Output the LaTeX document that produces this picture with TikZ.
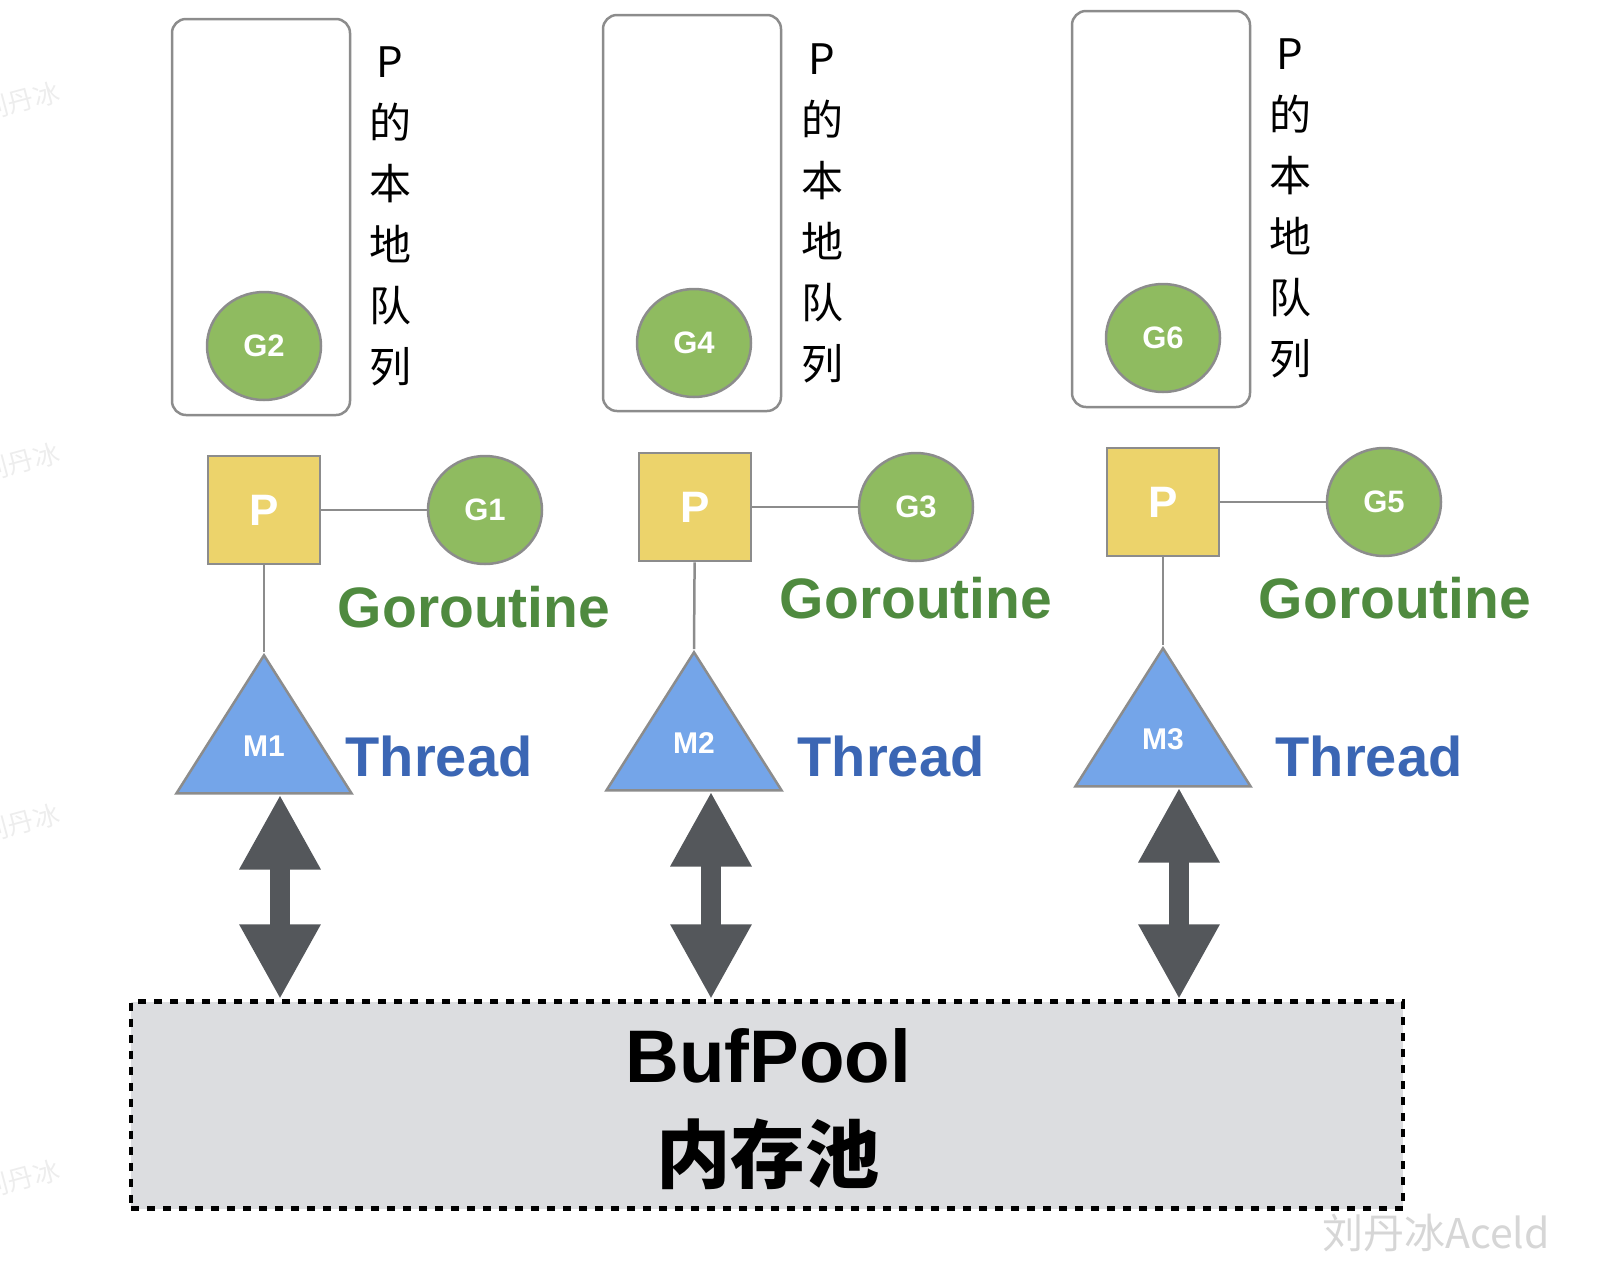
\documentclass[tikz,border=0pt]{standalone}
\usepackage{fontspec}
\setmainfont{Liberation Sans}
\newfontfamily\cjk{Noto Sans CJK SC}
\usetikzlibrary{positioning, calc, shapes.geometric, arrows.meta}
\definecolor{edgegray}{HTML}{8C8C8C}
\definecolor{pyellow}{HTML}{ECD36B}
\definecolor{ggreen}{HTML}{8FBB60}
\definecolor{mblue}{HTML}{74A5E9}
\definecolor{gtext}{HTML}{4F8A3F}
\definecolor{ttext}{HTML}{3B66B4}
\definecolor{arrowgray}{HTML}{54575B}
\definecolor{poolgray}{HTML}{DCDDE0}
\definecolor{wmgray}{HTML}{D6D6D6}
\tikzset{
	queue/.style={
		draw=edgegray, line width=2.5pt, rounded corners=14pt,
		minimum width=178pt, minimum height=396pt
	},
	proc/.style={
		draw=edgegray, line width=2.5pt, fill=pyellow,
		minimum width=112pt, minimum height=108pt,
		text=white, font={\bfseries\fontsize{44}{44}\selectfont}
	},
	gor/.style={
		ellipse, draw=edgegray, line width=2.5pt, fill=ggreen,
		minimum width=114pt, minimum height=108pt,
		text=white, font={\bfseries\fontsize{31}{31}\selectfont}
	},
	mach/.style={
		isosceles triangle, shape border rotate=90,
		isosceles triangle stretches,
		draw=edgegray, line width=2.5pt, fill=mblue,
		minimum width=175pt, minimum height=138pt, inner sep=0pt
	},
	mlabe/.style={text=white, font={\bfseries\fontsize{30}{30}\selectfont}},
	link/.style={draw=edgegray, line width=2.5pt},
	qlabe/.style={align=center, font={\cjk\fontsize{42}{61}\selectfont}},
	glabe/.style={text=gtext, font={\bfseries\fontsize{57}{57}\selectfont}},
	tlabe/.style={text=ttext, font={\bfseries\fontsize{56}{56}\selectfont}},
	dbarrow/.style={
		draw=arrowgray, line width=20pt,
		{Triangle[width=76pt,length=75pt]}-{Triangle[width=76pt,length=75pt]}
	},
	pool/.style={
		draw=black, fill=poolgray, line width=4.5pt, dash pattern=on 8pt off 8pt,
		minimum width=1272pt, minimum height=207pt
	},
	poolabe/.style={font={\bfseries\fontsize{74.5}{74.5}\selectfont}},
	wmlabe/.style={text=wmgray, font={\cjk\fontsize{41}{41}\selectfont}},
	sidewm/.style={text=black!7, rotate=15, anchor=east, font={\cjk\fontsize{26}{26}\selectfont}}
}

\begin{document}
\begin{tikzpicture}[x=1pt, y=-1pt]
\useasboundingbox (0,0) rectangle (1618,1286);

% local queues
\node[queue] (q1) at (261,217) {};
\node[queue] (q2) at (692,213) {};
\node[queue] (q3) at (1161,209) {};
\node[gor] (g2) at (264,346) {G2};
\node[gor] (g4) at (694,343) {G4};
\node[gor] (g6) at (1163,338) {G6};
\node[qlabe] (qt1) at (390,216) {P\\的\\本\\地\\队\\列};
\node[qlabe] (qt2) at (822,213) {P\\的\\本\\地\\队\\列};
\node[qlabe] (qt3) at (1290,208) {P\\的\\本\\地\\队\\列};

% P and running G
\node[proc] (p1) at (264,510) {P};
\node[proc] (p2) at (695,507) {P};
\node[proc] (p3) at (1163,502) {P};
\node[gor] (g1) at (485,510) {G1};
\node[gor] (g3) at (916,507) {G3};
\node[gor] (g5) at (1384,502) {G5};
\node[glabe] (gt1) at (474,607) {Goroutine};
\node[glabe] (gt2) at (916,598) {Goroutine};
\node[glabe] (gt3) at (1395,598) {Goroutine};

% threads
\node[mach, anchor=apex] (m1) at (264,652) {};
\node[mach, anchor=apex] (m2) at (694,649) {};
\node[mach, anchor=apex] (m3) at (1163,645) {};
\node[mlabe] (m1t) at ($(m1.south)!0.34!(m1.apex)$) {M1};
\node[mlabe] (m2t) at ($(m2.south)!0.34!(m2.apex)$) {M2};
\node[mlabe] (m3t) at ($(m3.south)!0.34!(m3.apex)$) {M3};
\node[tlabe] (tt1) at (439,756) {Thread};
\node[tlabe] (tt2) at (891,756) {Thread};
\node[tlabe] (tt3) at (1369,756) {Thread};

\draw[link] (p1) -- (g1);
\draw[link] (p2) -- (g3);
\draw[link] (p3) -- (g5);
\draw[link] (p1) -- (m1.apex);
\draw[link] (p2) -- (m2.apex);
\draw[link] (p3) -- (m3.apex);

% memory pool
\node[pool] (bp) at (767,1105) {};
\node[poolabe] (bpt) at (768,1056) {BufPool};
\node[poolabe] (bpc) at (768,1154) {\cjk\bfseries 内存池};

\draw[dbarrow] ([xshift=16pt]m1.south) -- ([xshift=16pt]m1.south |- bp.north);
\draw[dbarrow] ([xshift=17pt]m2.south) -- ([xshift=17pt]m2.south |- bp.north);
\draw[dbarrow] ([xshift=16pt]m3.south) -- ([xshift=16pt]m3.south |- bp.north);

% watermarks
\node[wmlabe] (wm) at (1436,1233) {刘丹冰Aceld};
\node[sidewm] (wm1) at (62,90) {刘丹冰};
\node[sidewm] (wm2) at (62,451) {刘丹冰};
\node[sidewm] (wm3) at (62,812) {刘丹冰};
\node[sidewm] (wm4) at (62,1168) {刘丹冰};
\end{tikzpicture}
\end{document}
